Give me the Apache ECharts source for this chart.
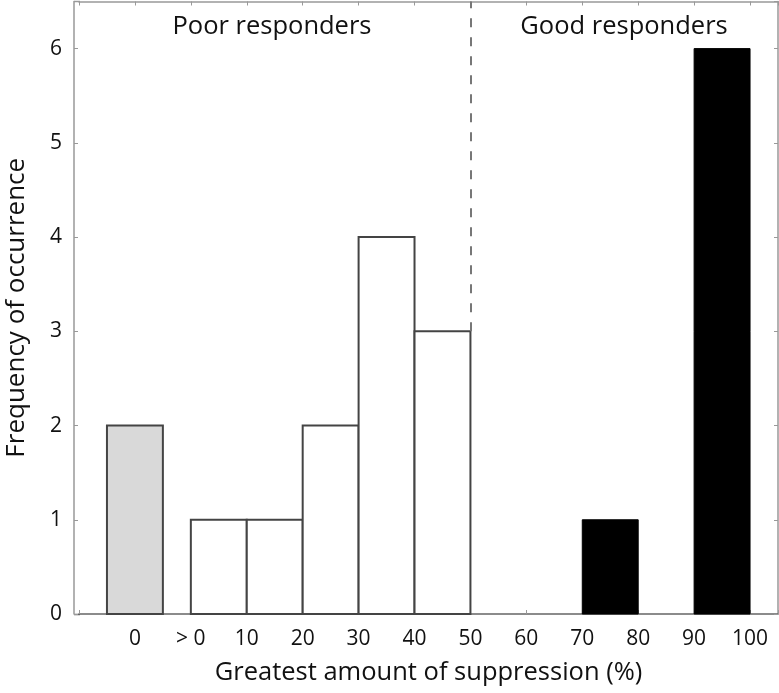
<!DOCTYPE html>
<html>
<head>
<meta charset="utf-8">
<script src="https://cdn.jsdelivr.net/npm/echarts@6/dist/echarts.min.js"></script>
<style>html,body{margin:0;padding:0;background:#fff;}#c{width:779px;height:693px;}</style>
</head>
<body>
<div id="c"></div>
<script>
// Tick labels on the x axis (positions 1..12)
const tickLabels = ['0', '> 0', '10', '20', '30', '40', '50', '60', '70', '80', '90', '100'];
// Bins: [start, end] in tick-position units, and frequencies
const zeroStart = [0.5];
const zeroEnd = [1.5];
const zeroFreq = [2];
const poorStart = [2, 3, 4, 5, 6];
const poorEnd = [3, 4, 5, 6, 7];
const poorFreq = [1, 1, 2, 4, 3];
const goodStart = [9, 11];
const goodEnd = [10, 12];
const goodFreq = [1, 6];
const yTicks = [0, 1, 2, 3, 4, 5, 6];
const thresholdPos = 7;   // "50"
const thresholdFrom = 3;  // top of the 40-50 bar

const FONT = 'Open Sans';

function zip(s, e, f) { return s.map((v, i) => [v, e[i], f[i]]); }

function makeRender(fill, stroke, lw) {
  return function (params, api) {
    const p0 = api.coord([api.value(0), api.value(2)]);
    const p1 = api.coord([api.value(1), 0]);
    return {
      type: 'rect',
      shape: { x: p0[0], y: p0[1], width: p1[0] - p0[0], height: p1[1] - p0[1] },
      style: { fill: fill, stroke: stroke, lineWidth: lw }
    };
  };
}

const chart = echarts.init(document.getElementById('c'), null, { renderer: 'canvas' });

const xLabelFmt = function (v) {
  const r = Math.round(v);
  if (Math.abs(v - r) > 1e-6 || r < 1 || r > tickLabels.length) return '';
  return tickLabels[r - 1];
};

const commonX = {
  type: 'value', min: 0, max: 12.5, interval: 1,
  splitLine: { show: false },
  axisTick: { show: true, inside: true, length: 4, lineStyle: { color: '#999', width: 1 } }
};

chart.setOption({
  animation: false,
  backgroundColor: '#fff',
  grid: { left: 79, right: 1, top: 1.5, bottom: 79, containLabel: false, outerBoundsMode: 'none' },
  xAxis: [
    Object.assign({}, commonX, {
      position: 'bottom',
      name: 'Greatest amount of suppression (%)',
      nameLocation: 'middle', nameGap: 46,
      nameTextStyle: { fontFamily: FONT, fontSize: 25.5, color: '#111' },
      axisLine: { show: true, onZero: false, lineStyle: { color: '#666', width: 1.5 } },
      axisLabel: { formatter: xLabelFmt, fontFamily: FONT, fontSize: 21, color: '#111', margin: 15, showMinLabel: true, showMaxLabel: true, hideOverlap: false }
    }),
    Object.assign({}, commonX, {
      position: 'top',
      axisLine: { show: true, onZero: false, lineStyle: { color: '#999', width: 1.5 } },
      axisLabel: { show: false }
    })
  ],
  yAxis: [
    {
      type: 'value', min: 0, max: 6.5, interval: 1, offset: 5,
      name: 'Frequency of occurrence', nameLocation: 'middle', nameGap: 44,
      nameTextStyle: { fontFamily: FONT, fontSize: 26, color: '#111' },
      axisLine: { show: true, onZero: false, lineStyle: { color: '#999', width: 1.5 } },
      axisTick: { show: true, inside: true, length: 4, lineStyle: { color: '#999' } },
      axisLabel: {
        fontFamily: FONT, fontSize: 21, color: '#111', margin: 12,
        formatter: function (v) { return yTicks.indexOf(v) >= 0 ? String(v) : ''; }
      },
      splitLine: { show: false }
    },
    {
      type: 'value', min: 0, max: 6.5, interval: 1, position: 'right',
      axisLine: { show: true, onZero: false, lineStyle: { color: '#999', width: 1.5 } },
      axisTick: { show: true, inside: true, length: 4, lineStyle: { color: '#999' } },
      axisLabel: { show: false },
      splitLine: { show: false }
    }
  ],
  graphic: [
    { type: 'line', shape: { x1: 74, y1: 1.5, x2: 80, y2: 1.5 }, style: { stroke: '#999', lineWidth: 1.5 } },
    { type: 'line', shape: { x1: 74, y1: 614.5, x2: 80, y2: 614.5 }, style: { stroke: '#666', lineWidth: 1.5 } },
    { type: 'text', x: 272, y: 27, style: { text: 'Poor responders', font: '25.5px "' + FONT + '"', fill: '#111', align: 'center', verticalAlign: 'middle' } },
    { type: 'text', x: 624, y: 27, style: { text: 'Good responders', font: '25.5px "' + FONT + '"', fill: '#111', align: 'center', verticalAlign: 'middle' } }
  ],
  series: [
    {
      type: 'custom', xAxisIndex: 0, yAxisIndex: 0,
      renderItem: makeRender('#d9d9d9', '#444', 2),
      encode: { x: [0, 1], y: 2 },
      data: zip(zeroStart, zeroEnd, zeroFreq)
    },
    {
      type: 'custom', xAxisIndex: 0, yAxisIndex: 0,
      renderItem: makeRender('#ffffff', '#444', 2),
      encode: { x: [0, 1], y: 2 },
      data: zip(poorStart, poorEnd, poorFreq),
      markLine: {
        silent: true, symbol: 'none', label: { show: false },
        lineStyle: { color: '#777', width: 2, type: [9, 10] },
        data: [[{ coord: [thresholdPos, thresholdFrom] }, { coord: [thresholdPos, 6.5] }]]
      }
    },
    {
      type: 'custom', xAxisIndex: 0, yAxisIndex: 0,
      renderItem: makeRender('#000000', '#000', 1),
      encode: { x: [0, 1], y: 2 },
      data: zip(goodStart, goodEnd, goodFreq)
    }
  ]
});
</script>
</body>
</html>
